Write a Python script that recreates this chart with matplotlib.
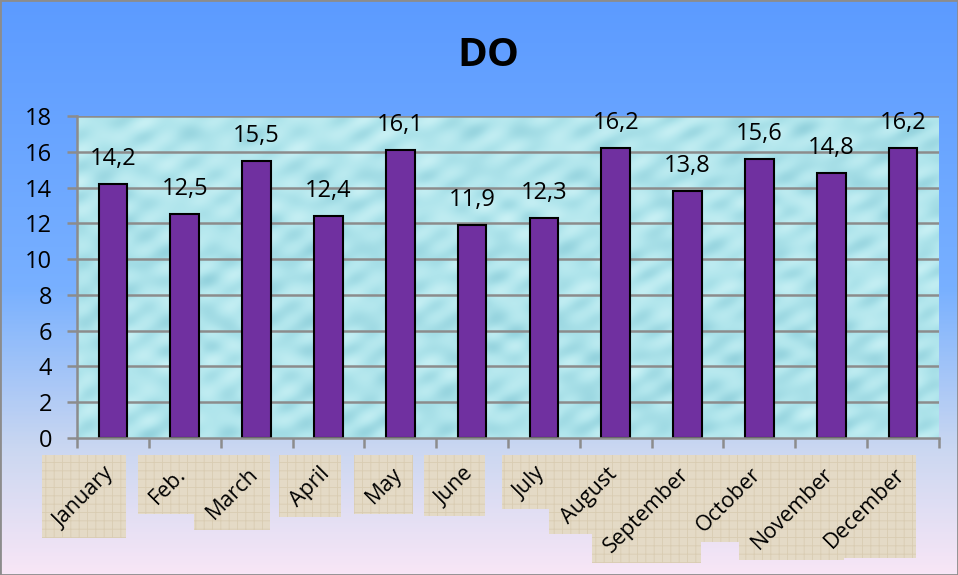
import numpy as np
import matplotlib
matplotlib.use('Agg')
import matplotlib.pyplot as plt
from matplotlib.colors import LinearSegmentedColormap
from matplotlib.patches import Rectangle
import matplotlib.transforms as mtransforms

# ---- data ----
months = ['January', 'Feb.', 'March', 'April', 'May', 'June', 'July',
          'August', 'September', 'October', 'November', 'December']
do_values = [14.2, 12.5, 15.5, 12.4, 16.1, 11.9, 12.3, 16.2, 13.8, 15.6, 14.8, 16.2]
y_ticks = [0, 2, 4, 6, 8, 10, 12, 14, 16, 18]
title = 'DO'

plt.rcParams['font.family'] = ['Open Sans', 'DejaVu Sans']

W, H = 958, 575
fig = plt.figure(figsize=(W / 100, H / 100), dpi=100)

# background gradient
bg = fig.add_axes([0, 0, 1, 1], zorder=-10)
grad = np.linspace(0, 1, 400).reshape(-1, 1)
cmap_bg = LinearSegmentedColormap.from_list(
    'bg', [(0.0, '#5c9bff'), (0.5, '#78b0ff'), (0.78, '#cad7f1'), (1.0, '#f8e6f6')])
bg.imshow(grad, aspect='auto', cmap=cmap_bg, extent=[0, 1, 0, 1], origin='upper')
bg.set_xlim(0, 1)
bg.set_ylim(0, 1)
bg.axis('off')

# main axes
x0, x1, ytop, ybot = 77, 939, 116, 438
ax = fig.add_axes([x0 / W, 1 - ybot / H, (x1 - x0) / W, (ybot - ytop) / H])
n = len(months)
xs = np.arange(n)

# water-like texture for plot area
tx = np.linspace(0, 1, 900)
ty = np.linspace(0, 1, 340)
X, Y = np.meshgrid(tx, ty)
tex = (0.55
       + 0.16 * np.sin(41 * X + 4 * np.sin(13 * Y)) * np.cos(29 * Y + 3 * np.sin(19 * X))
       + 0.12 * np.sin(97 * X * (1 + 0.3 * Y) + 7 * Y) * np.sin(71 * Y + 2 * X)
       + 0.08 * np.cos(150 * X + 60 * Y))
cmap_tex = LinearSegmentedColormap.from_list('tex', ['#8ccdd9', '#b0e5ec', '#d0f4f7'])
ax.imshow(tex, extent=[-0.5, n - 0.5, 0, 18], aspect='auto', cmap=cmap_tex,
          vmin=0.1, vmax=1.0, zorder=0, interpolation='bilinear')

# gridlines
for t in y_ticks[1:]:
    ax.axhline(t, color='#8c8c8c', lw=1.8, zorder=1)

ax.bar(xs, do_values, width=0.4, color='#7030a0', edgecolor='black', linewidth=1.5, zorder=3)

for xi, v in zip(xs, do_values):
    ax.annotate(f'{v:.1f}'.replace('.', ','), (xi, v), xytext=(0, 13.7),
                textcoords='offset points', ha='center', va='baseline',
                fontsize=17, zorder=5, annotation_clip=False)

ax.set_xlim(-0.5, n - 0.5)
ax.set_ylim(0, 18)
ax.set_yticks(y_ticks)
ax.set_yticklabels([str(t) for t in y_ticks], fontsize=17)
ax.set_xticks(np.arange(-0.5, n, 1.0))
ax.set_xticklabels([])
ax.tick_params(axis='both', direction='out', length=7, width=1.8, color='#8c8c8c')
ax.tick_params(axis='y', pad=11)
for s in ['top', 'right']:
    ax.spines[s].set_visible(False)
for s in ['left', 'bottom']:
    ax.spines[s].set_color('#8c8c8c')
    ax.spines[s].set_linewidth(1.8)
    ax.spines[s].set_zorder(4)

# month labels
off = mtransforms.ScaledTranslation(-1.5 / 100, -33 / 100, fig.dpi_scale_trans)
trans = mtransforms.blended_transform_factory(ax.transData, ax.transAxes) + off
texts = []
for xi, m in zip(xs, months):
    t = ax.text(xi, 0, m, transform=trans, rotation=45, rotation_mode='anchor',
                ha='right', va='center', fontsize=15.5, zorder=11, clip_on=False)
    texts.append(t)

fig.text(488 / W, 1 - 55 / H, title, ha='center', va='center', fontsize=29, fontweight='bold')

fig.canvas.draw()
renderer = fig.canvas.get_renderer()
plt.rcParams['hatch.linewidth'] = 0.6
for t in texts:
    bb = t.get_window_extent(renderer)
    r = Rectangle((bb.x0 - 8, bb.y0 - 6), bb.width + 15, bb.height + 15,
                  transform=mtransforms.IdentityTransform(), facecolor='#e4dac6',
                  edgecolor='#d9ccb2', hatch='++', linewidth=0, zorder=10, clip_on=False)
    ax.add_patch(r)

fig.patches.append(Rectangle((0, 0), 1, 1, transform=fig.transFigure, fill=False,
                             edgecolor='#8c8c8c', linewidth=2))

fig.savefig('out.png', dpi=100)
